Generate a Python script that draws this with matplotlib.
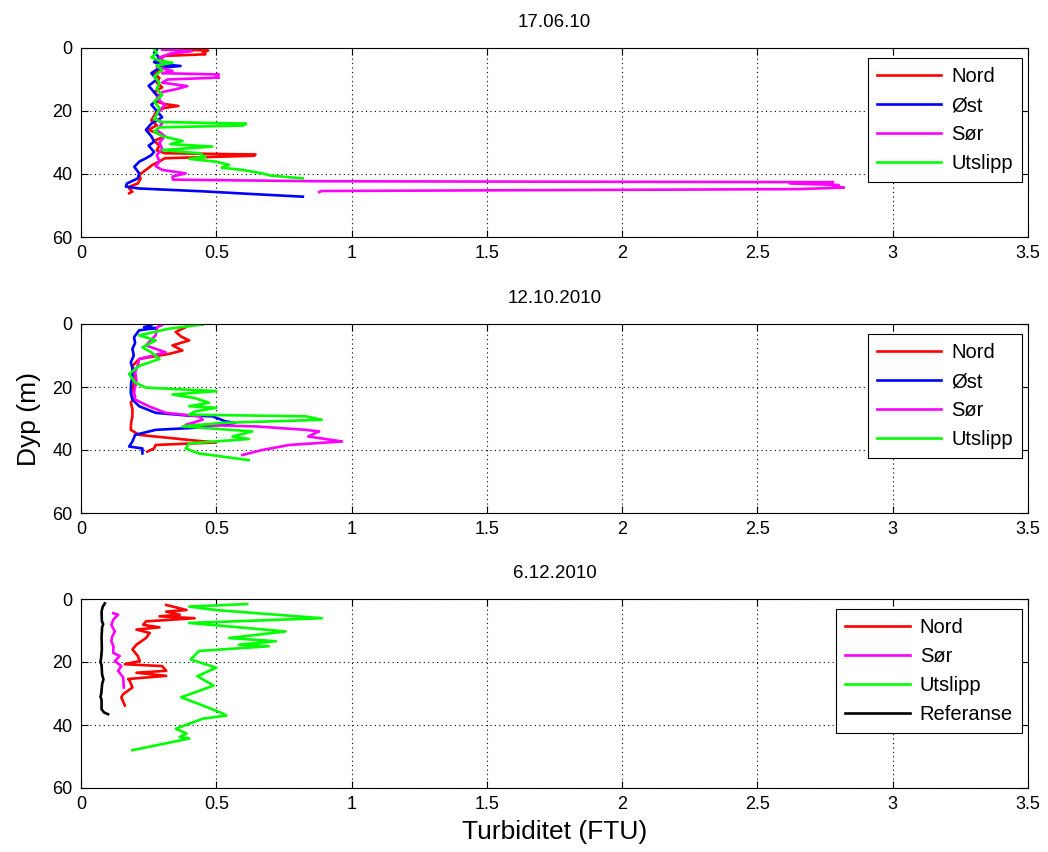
import matplotlib
matplotlib.use("Agg")
import matplotlib.pyplot as plt

plt.rcParams['font.family'] = ['Liberation Sans', 'DejaVu Sans']

# ---------------- data ----------------
titles = ["17.06.10", "12.10.2010", "6.12.2010"]
xticks = [0, 0.5, 1, 1.5, 2, 2.5, 3, 3.5]
xticklabels = ["0", "0.5", "1", "1.5", "2", "2.5", "3", "3.5"]
yticks = [0, 20, 40, 60]

# Panel 1: 17.06.10
p1_nord_d = [0.3, 0.8, 1.5, 2.0, 2.5, 3.5, 5, 6.5, 8, 9.5, 11, 12.5, 14, 15.5, 17, 17.8, 18.4, 19, 20,
             21.5, 23, 24.5, 26, 27, 28, 29.5, 31, 32.5, 33.4, 33.8, 34.2, 35.0, 36, 37.1, 38.7, 40.3,
             41.5, 43.0, 44.0, 44.6, 45.6, 46.1]
p1_nord_v = [0.30, 0.47, 0.45, 0.46, 0.31, 0.29, 0.28, 0.30, 0.27, 0.29, 0.28, 0.30, 0.27, 0.29, 0.28,
             0.31, 0.36, 0.31, 0.28, 0.27, 0.26, 0.28, 0.25, 0.28, 0.31, 0.27, 0.29, 0.28, 0.31, 0.645,
             0.64, 0.31, 0.29, 0.264, 0.24, 0.215, 0.22, 0.21, 0.18, 0.178, 0.19, 0.178]
p1_ost_d = [0.5, 1.5, 3, 4.5, 5.2, 5.7, 6.3, 8, 10, 12, 14, 16, 18, 20, 22, 24, 26, 28, 29.7, 31, 33,
            34, 35.0, 36.1, 37.7, 39.8, 41.4, 43.0, 44.0, 44.6, 45.5, 46.3, 47.2]
p1_ost_v = [0.28, 0.27, 0.29, 0.27, 0.30, 0.368, 0.29, 0.26, 0.28, 0.25, 0.27, 0.29, 0.26, 0.28, 0.30,
            0.26, 0.24, 0.26, 0.27, 0.25, 0.27, 0.26, 0.24, 0.215, 0.197, 0.215, 0.21, 0.17, 0.166,
            0.215, 0.45, 0.62, 0.82]
p1_sor_d = [0.5, 1.0, 1.8, 3, 4.5, 6, 7.3, 8.0, 8.4, 9.0, 9.4, 10.0, 11.0, 12.1, 13.1, 14, 16, 18, 20,
            22, 24, 26, 28, 30, 32, 34, 36, 37.5, 38.7, 39.8, 40.8, 41.8, 42.3, 42.6, 43.0, 43.5, 43.9,
            44.3, 44.8, 45.4, 45.7]
p1_sor_v = [0.30, 0.41, 0.33, 0.29, 0.31, 0.28, 0.338, 0.30, 0.51, 0.50, 0.51, 0.32, 0.30, 0.393, 0.35,
            0.30, 0.28, 0.31, 0.29, 0.27, 0.30, 0.28, 0.31, 0.29, 0.30, 0.28, 0.29, 0.276, 0.30, 0.387,
            0.338, 0.34, 0.88, 2.78, 2.62, 2.80, 2.78, 2.82, 2.65, 0.89, 0.88]
p1_uts_d = [0.3, 1.5, 3, 4.0, 4.7, 5.5, 7, 9, 11, 13, 15, 17, 19, 21, 22.5, 23.5, 24.0, 24.6, 25.2,
            26.5, 28, 29.5, 30.5, 31.3, 32.4, 33.4, 34.5, 35.2, 36.1, 37.1, 38.0, 38.7, 39.8, 40.5, 41.4]
p1_uts_v = [0.27, 0.28, 0.26, 0.29, 0.338, 0.28, 0.30, 0.27, 0.29, 0.28, 0.30, 0.27, 0.29, 0.28, 0.27,
            0.30, 0.61, 0.60, 0.29, 0.27, 0.30, 0.375, 0.33, 0.485, 0.30, 0.436, 0.46, 0.40, 0.50,
            0.547, 0.52, 0.596, 0.67, 0.70, 0.82]

# Panel 2: 12.10.2010
p2_nord_d = [0.2, 1.0, 2.5, 4.0, 5.2, 6.8, 8.4, 9.5, 11.1, 13.3, 16, 18.6, 21, 23, 25.0, 27, 29.3,
             31.5, 33.6, 35.2, 36.2, 37.0, 37.6, 38.4, 39.5, 40.5]
p2_nord_v = [0.40, 0.387, 0.35, 0.37, 0.40, 0.338, 0.375, 0.325, 0.215, 0.19, 0.20, 0.196, 0.19, 0.20,
             0.184, 0.19, 0.19, 0.185, 0.184, 0.215, 0.33, 0.42, 0.50, 0.276, 0.27, 0.245]
p2_ost_d = [0.3, 1.0, 1.3, 2.0, 4.2, 6, 7.9, 10, 12.2, 14, 16.5, 19, 21.8, 24, 26.1, 28.2, 29.1, 29.3,
            30.9, 31.4, 33.0, 33.6, 35.2, 37.3, 38.9, 39.5, 41.1]
p2_ost_v = [0.26, 0.233, 0.276, 0.215, 0.196, 0.20, 0.19, 0.195, 0.184, 0.19, 0.19, 0.185, 0.184, 0.19,
            0.215, 0.276, 0.40, 0.485, 0.534, 0.57, 0.41, 0.276, 0.20, 0.19, 0.178, 0.227, 0.227]
p2_sor_d = [0.3, 1.0, 3.6, 5, 6.8, 9.0, 11.1, 13, 15.4, 18, 21.8, 24.0, 26.1, 28.2, 29.3, 30.4, 32.0,
            32.5, 33.6, 34.1, 35.7, 37.3, 38.4, 40.0, 41.6]
p2_sor_v = [0.30, 0.282, 0.276, 0.26, 0.24, 0.313, 0.215, 0.21, 0.20, 0.205, 0.196, 0.20, 0.25, 0.313,
            0.436, 0.45, 0.387, 0.645, 0.83, 0.88, 0.84, 0.965, 0.77, 0.67, 0.596]
p2_uts_d = [0.2, 0.4, 1.5, 3.6, 5.2, 7.4, 9, 11.1, 13.3, 15.9, 18.6, 20.2, 21.3, 22.4, 23.5, 25.0, 26.1,
            26.6, 27.7, 28.8, 29.3, 30.4, 31.4, 32.5, 34.1, 35.7, 36.5, 37.9, 39.5, 41.1, 43.2]
p2_uts_v = [0.45, 0.424, 0.325, 0.215, 0.276, 0.227, 0.26, 0.29, 0.215, 0.178, 0.20, 0.24, 0.50, 0.338,
            0.42, 0.473, 0.40, 0.50, 0.424, 0.40, 0.83, 0.89, 0.52, 0.375, 0.633, 0.56, 0.62, 0.40,
            0.387, 0.436, 0.62]

# Panel 3: 6.12.2010
p3_nord_d = [1.9, 3.5, 4.0, 5.0, 5.5, 6.1, 7.1, 8.2, 9.0, 9.7, 10.8, 12.4, 14.5, 16.0, 18.1, 19.7,
             20.7, 21.3, 22.8, 23.4, 24.4, 25.4, 26.0, 28.1, 30.2, 31.2, 33.8]
p3_nord_v = [0.315, 0.39, 0.315, 0.365, 0.29, 0.42, 0.24, 0.23, 0.29, 0.205, 0.254, 0.24, 0.205, 0.19,
             0.21, 0.217, 0.162, 0.30, 0.315, 0.205, 0.315, 0.174, 0.18, 0.19, 0.156, 0.149, 0.162]
p3_sor_d = [4.5, 5.0, 6.5, 8.2, 10.3, 12, 13.4, 15, 17.1, 18.1, 19.7, 21.3, 22.8, 24.9, 28.1]
p3_sor_v = [0.119, 0.137, 0.12, 0.112, 0.125, 0.115, 0.112, 0.12, 0.119, 0.143, 0.125, 0.149, 0.137,
            0.156, 0.158]
p3_uts_d = [1.6, 2.4, 3.5, 6.1, 7.6, 10.3, 12.4, 13.4, 14.5, 15.0, 16.5, 19.2, 21.8, 24.5, 27.5, 31.2,
            33.8, 36.4, 37.0, 38.0, 41.2, 42.7, 43.8, 44.3, 48.0]
p3_uts_v = [0.614, 0.40, 0.497, 0.89, 0.40, 0.756, 0.547, 0.72, 0.584, 0.694, 0.436, 0.405, 0.50, 0.43,
            0.49, 0.37, 0.45, 0.525, 0.537, 0.45, 0.35, 0.39, 0.365, 0.40, 0.19]
p3_ref_d = [1.4, 2.5, 4, 7, 8, 9, 12, 16, 19, 20, 21, 24, 25.5, 27, 30, 31, 32, 35, 36, 36.6]
p3_ref_v = [0.088, 0.080, 0.076, 0.077, 0.082, 0.078, 0.076, 0.077, 0.074, 0.072, 0.076, 0.078, 0.083,
            0.078, 0.075, 0.072, 0.076, 0.076, 0.085, 0.10]

COL = {"Nord": (1, 0, 0), "Øst": (0, 0, 1), "Sør": (1, 0, 1), "Utslipp": (0, 1, 0), "Referanse": (0, 0, 0)}

panels = [
    [("Nord", p1_nord_v, p1_nord_d), ("Øst", p1_ost_v, p1_ost_d),
     ("Sør", p1_sor_v, p1_sor_d), ("Utslipp", p1_uts_v, p1_uts_d)],
    [("Nord", p2_nord_v, p2_nord_d), ("Øst", p2_ost_v, p2_ost_d),
     ("Sør", p2_sor_v, p2_sor_d), ("Utslipp", p2_uts_v, p2_uts_d)],
    [("Nord", p3_nord_v, p3_nord_d), ("Sør", p3_sor_v, p3_sor_d),
     ("Utslipp", p3_uts_v, p3_uts_d), ("Referanse", p3_ref_v, p3_ref_d)],
]

W, H = 1048, 852
fig = plt.figure(figsize=(W / 100, H / 100), dpi=100)
ax_left = 81 / W
ax_w = 947 / W
ax_h = 189 / H
tops = [48, 324, 599]

axes = []
for i, top in enumerate(tops):
    bottom = (H - top - 189) / H
    ax = fig.add_axes([ax_left, bottom, ax_w, ax_h])
    axes.append(ax)
    for name, v, d in panels[i]:
        ax.plot(v, d, color=COL[name], lw=1.9, label=name)
    ax.set_xlim(0, 3.5)
    ax.set_ylim(60, 0)
    ax.set_xticks(xticks)
    ax.set_xticklabels(xticklabels)
    ax.set_yticks(yticks)
    ax.grid(True, linestyle=(0, (1, 3)), color='black', linewidth=0.8)
    ax.tick_params(direction='in', top=True, right=True, labelsize=13, length=5, width=0.8, pad=6)
    for s in ax.spines.values():
        s.set_linewidth(0.8)
    ax.set_title(titles[i], fontsize=13.5, pad=15)
    leg = ax.legend(loc='upper right', bbox_to_anchor=(1 - 6 / 947, 1 - 10 / 189),
                    borderaxespad=0, fontsize=14.5, handlelength=3.2, handletextpad=0.5,
                    labelspacing=0.5, fancybox=False, framealpha=1, edgecolor='black',
                    borderpad=0.45)
    leg.get_frame().set_linewidth(0.8)

axes[1].set_ylabel("Dyp (m)", fontsize=19, labelpad=8)
axes[2].set_xlabel("Turbiditet (FTU)", fontsize=19, labelpad=5)

fig.savefig("out.png", dpi=100)
